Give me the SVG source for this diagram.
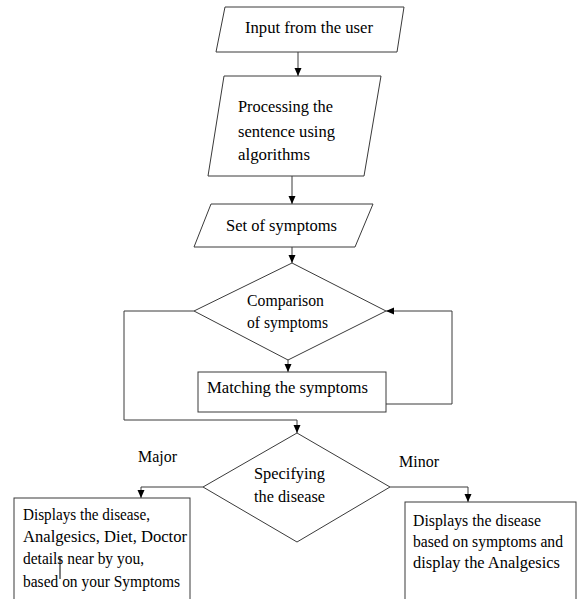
<svg xmlns="http://www.w3.org/2000/svg" width="577" height="599" viewBox="0 0 577 599">
<style>
.shape{fill:#fff;stroke:#3a3a3a;stroke-width:1}
.conn{fill:none;stroke:#3a3a3a;stroke-width:1}
text{font-family:"Liberation Serif","Times New Roman",serif;font-size:17.5px;fill:#000}
.s{font-size:16.5px}
</style>
<defs>
<marker id="ah" markerUnits="userSpaceOnUse" markerWidth="8" markerHeight="8" refX="8" refY="3.5" orient="auto">
<path d="M0,0 L8,3.5 L0,7 z" fill="#000"/>
</marker>
</defs>
<rect width="577" height="599" fill="#fff"/>
<g id="connectors">
<path class="conn" d="M298,52 V76" marker-end="url(#ah)"/>
<path class="conn" d="M292,176 V204" marker-end="url(#ah)"/>
<path class="conn" d="M292,247 V263" marker-end="url(#ah)"/>
<path class="conn" d="M288,359 V372" marker-end="url(#ah)"/>
<path class="conn" d="M386,404 H452 V311 H386" marker-end="url(#ah)"/>
<path class="conn" d="M194,311 H124 V420 H297 V433" marker-end="url(#ah)"/>
<path class="conn" d="M203,487 H141 V498" marker-end="url(#ah)"/>
<path class="conn" d="M390,487 H468 V502" marker-end="url(#ah)"/>
</g>
<g id="input">
<polygon class="shape" points="225,7 404,7 397,52 216,52"/>
<text x="245" y="33" textLength="128" lengthAdjust="spacingAndGlyphs">Input from the user</text>
</g>
<g id="processing">
<polygon class="shape" points="224,76 381,76 364,176 208,176"/>
<text x="238" y="112" textLength="95" lengthAdjust="spacingAndGlyphs">Processing the</text>
<text x="238" y="137" textLength="97" lengthAdjust="spacingAndGlyphs">sentence using</text>
<text x="238" y="160" textLength="72" lengthAdjust="spacingAndGlyphs">algorithms</text>
</g>
<g id="symptoms">
<polygon class="shape" points="211,204 373,204 355,247 194,247"/>
<text x="226" y="231" textLength="111" lengthAdjust="spacingAndGlyphs">Set of symptoms</text>
</g>
<g id="comparison">
<polygon class="shape" points="292,263 386,311 288,360 194,311"/>
<text x="247" y="306" textLength="77" lengthAdjust="spacingAndGlyphs">Comparison</text>
<text x="247" y="328" textLength="81" lengthAdjust="spacingAndGlyphs">of symptoms</text>
</g>
<g id="matching">
<rect class="shape" x="198" y="372" width="188" height="40"/>
<text x="207" y="393" textLength="161" lengthAdjust="spacingAndGlyphs">Matching the symptoms</text>
</g>
<g id="specifying">
<polygon class="shape" points="297,433 390,487 297,542 203,487"/>
<text x="254" y="479" textLength="71" lengthAdjust="spacingAndGlyphs">Specifying</text>
<text x="254" y="502" textLength="71" lengthAdjust="spacingAndGlyphs">the disease</text>
</g>
<g id="major-label">
<text x="138" y="462" textLength="39" lengthAdjust="spacingAndGlyphs">Major</text>
</g>
<g id="minor-label">
<text x="399" y="467" textLength="40" lengthAdjust="spacingAndGlyphs">Minor</text>
</g>
<g id="major-output">
<rect class="shape" x="14" y="498" width="176" height="112"/>
<text x="23" y="520" textLength="127" lengthAdjust="spacingAndGlyphs">Displays the disease,</text>
<text x="23" y="542" textLength="164" lengthAdjust="spacingAndGlyphs">Analgesics, Diet, Doctor</text>
<text x="23" y="564" textLength="121" lengthAdjust="spacingAndGlyphs">details near by you,</text>
<text x="23" y="587" textLength="157" lengthAdjust="spacingAndGlyphs">based on your Symptoms</text>
<line x1="60" y1="557" x2="60" y2="579" stroke="#000" stroke-width="1"/>
</g>
<g id="minor-output">
<rect class="shape" x="405" y="502" width="171" height="108"/>
<text x="413" y="526" textLength="128" lengthAdjust="spacingAndGlyphs">Displays the disease</text>
<text class="s" x="413" y="547" textLength="150" lengthAdjust="spacingAndGlyphs">based on symptoms and</text>
<text x="413" y="568" textLength="147" lengthAdjust="spacingAndGlyphs">display the Analgesics</text>
</g>
</svg>
